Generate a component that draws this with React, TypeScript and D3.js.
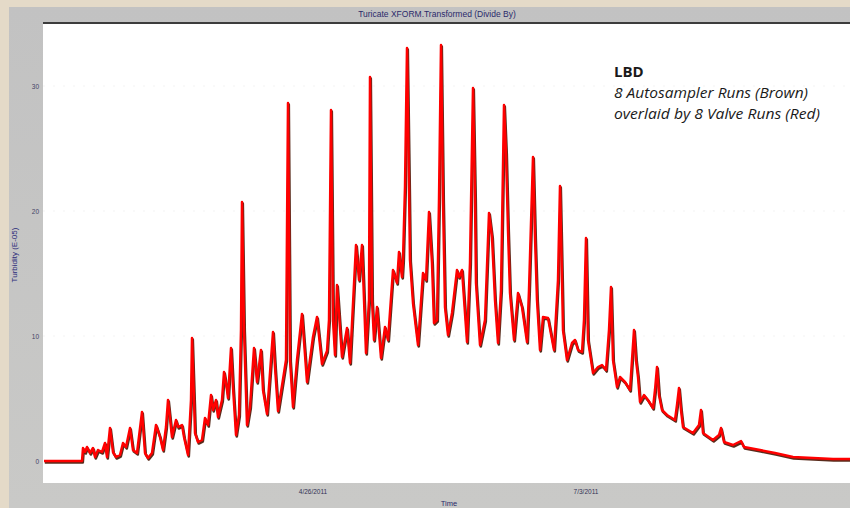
import React from 'react';
import * as d3 from 'd3';

// Time axis: days since start of record
const days = [
  0, 9, 9.5, 9.75, 10.25, 10.75, 11.5, 12.25, 12.75, 13.5, 14.5, 15.25, 15.75, 16.5, 17.25, 18, 19, 19.75, 20.5, 21.5,
  22.25, 23.25, 24.5, 25.25, 26, 27, 28, 29, 29.75, 30.5, 31, 32, 33, 33.5, 34.5, 35, 36, 36.75, 37, 37.5,
  37.75, 38.5, 39.5, 40.25, 41, 41.75, 42.25, 43, 43.5, 44.5, 45, 45.75, 46, 46.75, 47.25, 48, 48.75, 49.25, 49.5, 50,
  50.75, 51.5, 52.5, 53.25, 54.25, 54.75, 55.75, 57.25, 57.75, 58.5, 60, 60.5, 61, 61.5, 62.25, 63.25, 64.5, 65.75, 67.25, 68.25,
  69.5, 70.75, 71.25, 71.75, 72.25, 72.75, 73.25, 74.5, 75.75, 76.5, 78, 78.75, 79.5, 80.5, 81.25, 81.5, 82, 82.5, 83.25, 84.25,
  85.25, 86, 87.25, 88.25, 88.75, 89.5, 89.75, 90.25, 90.75, 91.25, 91.5, 92.25, 93.5, 94.75, 95.5, 96.25, 97, 97.5, 98.25, 98.75,
  99.25, 99.75, 100.25, 101, 102, 103.25, 103.75, 104.5, 105.75, 106.5, 107.25, 107.75, 108, 109, 110.25, 111.25, 112, 112.75, 113.5, 114.25,
  115, 115.5, 116, 116.5, 117.5, 118.5, 119.5, 120.75, 121.25, 122.25, 122.75, 123.25, 124, 124.75, 126, 127.5, 128.5, 129, 129.5, 129.75,
  130.75, 132, 132.75, 133.5, 134.5, 135, 135.5, 136, 137.25, 138.5, 139.5, 140.5, 141.25, 141.75, 142.25, 143.25, 144, 145.25, 146.5, 147,
  147.5, 148, 148.5, 149, 150, 151, 152.25, 152.75, 153.25, 153.75, 154.5, 155.75, 157.75, 158.25, 158.75, 159.25, 159.75, 162.25, 163.75, 164.25,
  164.75, 167.25, 168.75, 169.25, 170, 172.25, 174.25, 175, 179, 182.75, 187.25, 192.25, 197.25, 201.5,
];

// Red: 8 valve runs (E-05)
const valveRuns = [
  0, 0, 0, 1.04, 0.72, 1.12, 0.64, 1.04, 0.32, 0.88, 0.72, 1.44, 0.32, 2.64, 0.72, 0.32, 0.48, 1.44, 1.12, 2.64,
  0.88, 0.64, 3.92, 0.64, 0.24, 0.64, 2.88, 1.92, 0.88, 2.72, 4.88, 1.92, 3.28, 2.72, 2.88, 1.92, 0.48, 4.88, 9.84, 4.88,
  2.24, 1.52, 1.68, 3.44, 2.88, 5.28, 4.08, 4.88, 3.52, 4.88, 7.12, 5.68, 5.04, 9.04, 5.92, 2.08, 3.68, 10.48, 20.72, 10.48,
  2.88, 4.32, 9.04, 6.32, 8.88, 5.68, 3.76, 10.32, 7.52, 4.0, 7.04, 8.08, 28.64, 8.08, 4.32, 8.08, 11.76, 6.32, 9.92, 11.52,
  7.76, 8.8, 11.28, 28.08, 11.28, 8.48, 14.08, 8.32, 10.64, 7.84, 17.28, 14.48, 17.28, 8.64, 12.88, 30.72, 12.88, 9.68, 12.32, 8.24,
  10.72, 9.68, 15.28, 14.24, 16.72, 14.72, 16.08, 21.92, 33.04, 21.92, 16.08, 12.64, 9.28, 15.04, 14.48, 19.92, 15.84, 11.04, 11.28, 20.88,
  33.28, 20.88, 12.32, 10.08, 11.84, 15.28, 14.72, 15.28, 9.52, 15.84, 29.84, 20.88, 14.24, 9.28, 11.28, 19.84, 17.92, 12.88, 9.44, 13.68,
  28.48, 24.64, 18.48, 13.44, 9.68, 13.44, 12.32, 9.52, 13.68, 24.32, 17.92, 12.88, 8.88, 11.52, 11.44, 8.88, 14.48, 22.0, 14.48, 10.48,
  8.08, 9.44, 9.68, 8.88, 8.72, 11.28, 17.84, 9.68, 7.04, 7.52, 7.68, 7.28, 10.48, 13.92, 8.08, 5.92, 6.72, 6.32, 5.68, 8.08,
  10.48, 8.08, 6.72, 4.72, 5.28, 4.88, 4.24, 5.68, 7.52, 5.28, 4.08, 3.68, 3.28, 4.48, 5.84, 4.08, 2.72, 2.24, 2.88, 4.08,
  2.24, 1.68, 2.08, 2.64, 1.52, 1.28, 1.6, 1.12, 0.88, 0.64, 0.32, 0.24, 0.16, 0.16,
];

// Brown: 8 autosampler runs, almost entirely hidden under the red trace
const autosamplerRuns = valveRuns;

const yTicks = [0, 10, 20, 30];
const xTickDays = [67.25, 135.5];
const xTickLabels = ['4/26/2011', '7/3/2011'];

const titleText = 'Turicate XFORM.Transformed (Divide By)';
const yAxisTitle = 'Turbidity (E-05)';
const xAxisTitle = 'Time';
const noteLines = ['LBD', '8 Autosampler Runs (Brown)', 'overlaid by 8 Valve Runs (Red)'];

export default function App() {
  const W = 850;
  const H = 508;
  const plot = { left: 43, right: 850, top: 24, bottom: 483 };

  const x = d3.scaleLinear().domain([-0.25, 201.5]).range([plot.left, plot.right]);
  const y = d3.scaleLinear().domain([-1.76, 34.96]).range([plot.bottom, plot.top]);

  const pts = days.map((d, i) => [d, valveRuns[i]] as [number, number]);
  const ptsB = days.map((d, i) => [d, autosamplerRuns[i]] as [number, number]);
  const line = d3
    .line<[number, number]>()
    .x((d) => x(d[0]))
    .y((d) => y(d[1]))
    .curve(d3.curveLinear);

  const tickFont = '"Liberation Sans", Arial, sans-serif';

  return (
    <svg
      width={W}
      height={H}
      style={{ position: 'absolute', left: 0, top: 0, display: 'block' }}
      viewBox={`0 0 ${W} ${H}`}
    >
      <defs>
        <clipPath id="plotClip">
          <rect x={plot.left} y={plot.top} width={plot.right - plot.left} height={plot.bottom - plot.top} />
        </clipPath>
        <linearGradient id="frameGrad" x1="0" x2="0" y1="0" y2="1">
          <stop offset="0" stopColor="#c2c2c2" />
          <stop offset="1" stopColor="#c9c9c7" />
        </linearGradient>
      </defs>
      {/* beige page background */}
      <rect x={0} y={0} width={W} height={H} fill="#e4dac8" />
      {/* grey chart frame */}
      <rect x={9} y={7} width={W - 9} height={H - 7} fill="url(#frameGrad)" />
      {/* plot area */}
      <rect x={plot.left} y={plot.top} width={plot.right - plot.left} height={plot.bottom - plot.top} fill="#ffffff" />
      <line x1={plot.left} x2={plot.right} y1={23} y2={23} stroke="#3c3c3c" strokeWidth={2} />

      {/* faint gridlines */}
      {yTicks.slice(1).map((t) => (
        <line
          key={'g' + t}
          x1={plot.left}
          x2={plot.right}
          y1={y(t)}
          y2={y(t)}
          stroke="#f3f3f3"
          strokeWidth={1}
          strokeDasharray="2,8"
        />
      ))}

      {/* title */}
      <text x={437} y={17} textAnchor="middle" fontFamily={tickFont} fontSize={8.5} fill="#2a2a6a">
        {titleText}
      </text>

      {/* y ticks */}
      {yTicks.map((t) => (
        <text
          key={'yt' + t}
          x={39}
          y={y(t) + 2.5}
          textAnchor="end"
          fontFamily={tickFont}
          fontSize={6.5}
          fill="#444466"
        >
          {t}
        </text>
      ))}
      <text
        transform={`translate(17, 255) rotate(-90)`}
        textAnchor="middle"
        fontFamily={tickFont}
        fontSize={8}
        fill="#2a2a7a"
      >
        {yAxisTitle}
      </text>

      {/* x ticks */}
      {xTickDays.map((d, i) => (
        <text
          key={'xt' + i}
          x={x(d)}
          y={494}
          textAnchor="middle"
          fontFamily={tickFont}
          fontSize={6.5}
          fill="#333355"
        >
          {xTickLabels[i]}
        </text>
      ))}
      <text x={449} y={506} textAnchor="middle" fontFamily={tickFont} fontSize={7.5} fill="#2a2a6a">
        {xAxisTitle}
      </text>

      {/* series */}
      <g clipPath="url(#plotClip)">
        <path
          d={line(ptsB) || ''}
          fill="none"
          stroke="#5a2c1c"
          strokeWidth={2.6}
          strokeLinejoin="round"
          transform="translate(0.8,1.5)"
        />
        <path d={line(pts) || ''} fill="none" stroke="#ff0000" strokeWidth={2.5} strokeLinejoin="round" />
      </g>

      {/* annotation */}
      <g fontFamily='"Open Sans", "Lato", sans-serif' fill="#1a1a1a">
        <text x={614} y={77} fontSize={15} fontWeight="bold">
          {noteLines[0]}
        </text>
        <text x={614} y={98} fontSize={15} fontStyle="italic" textLength={194} lengthAdjust="spacingAndGlyphs">
          {noteLines[1]}
        </text>
        <text x={614} y={119} fontSize={15} fontStyle="italic" textLength={206} lengthAdjust="spacingAndGlyphs">
          {noteLines[2]}
        </text>
      </g>
    </svg>
  );
}
